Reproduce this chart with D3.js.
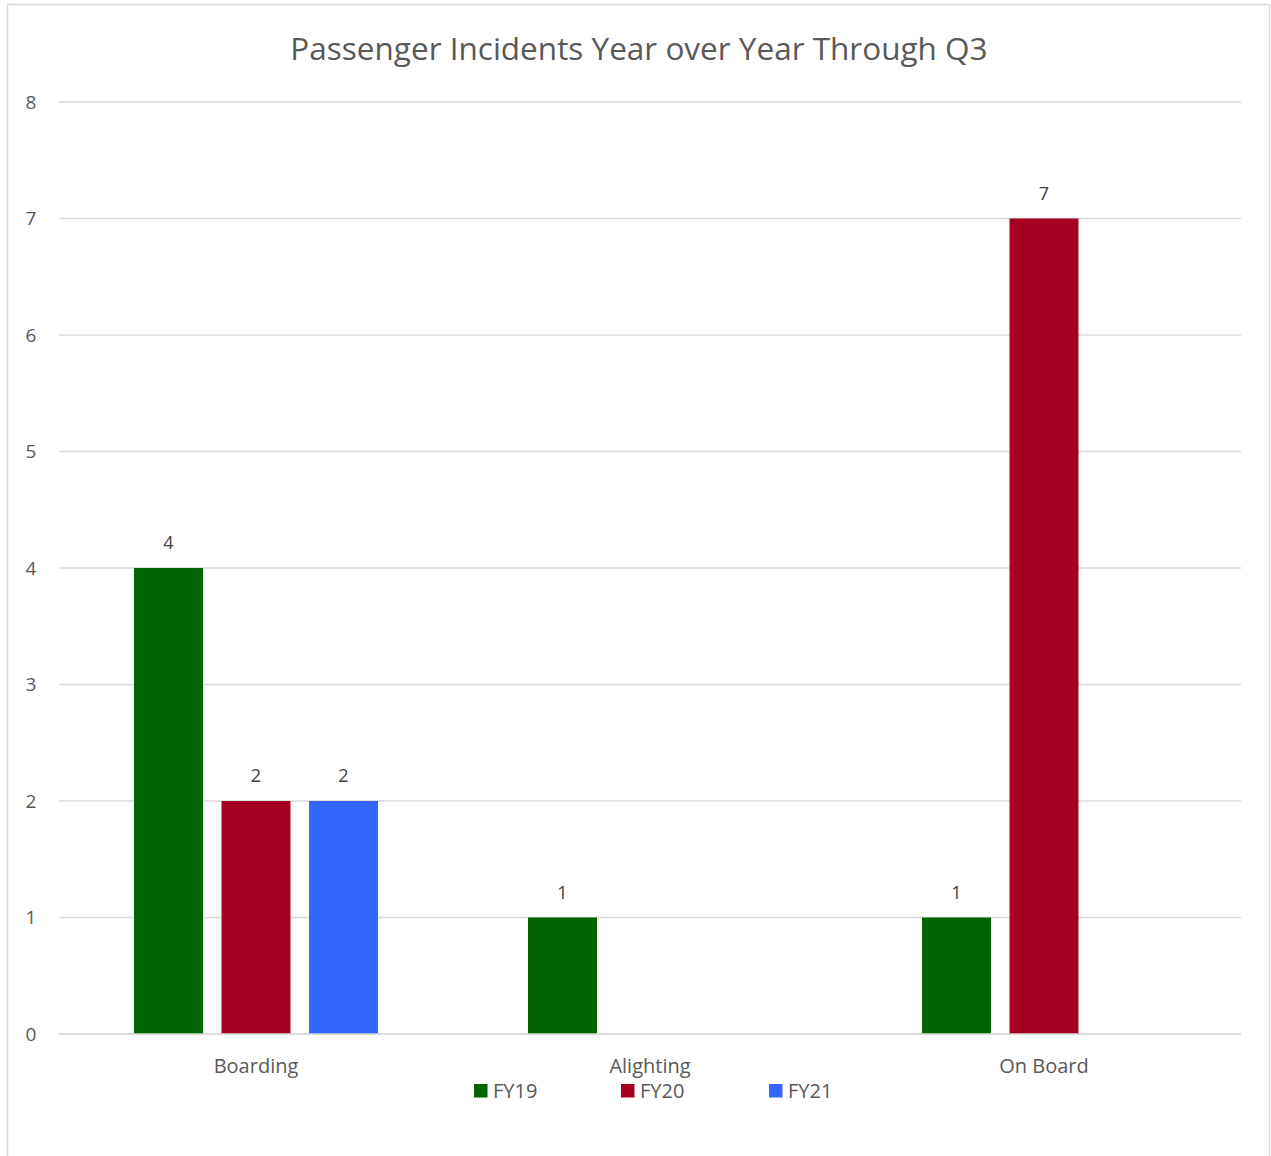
<!DOCTYPE html>
<html><head><meta charset="utf-8">
<script src="https://cdn.jsdelivr.net/npm/d3@7"></script>
<style>body{margin:0;background:#fff;} svg{display:block;}</style>
</head><body>
<script>
const categories = ["Boarding", "Alighting", "On Board"];
const seriesNames = ["FY19", "FY20", "FY21"];
const fy19 = [4, 1, 1];
const fy20 = [2, null, 7];
const fy21 = [2, null, null];
const yTicks = [0, 1, 2, 3, 4, 5, 6, 7, 8];
const colors = ["#006400", "#A50021", "#3366FF"];
const title = "Passenger Incidents Year over Year Through Q3";

(function () {
const W = 1271, H = 1156;
const font = "'Open Sans', sans-serif";
const svg = d3.select("body").append("svg").attr("width", W).attr("height", H);
svg.append("rect").attr("x", 7.5).attr("y", 4.5).attr("width", 1262).attr("height", 1160)
  .attr("fill", "#fff").attr("stroke", "#d9d9d9").attr("stroke-width", 1.5);

const pL = 59, pR = 1241, pT = 102, pB = 1034;
const x = d3.scaleBand().domain(categories).range([pL, pR]).paddingInner(0).paddingOuter(0);
const y = d3.scaleLinear().domain([0, 8]).range([pB, pT]);
const groupW = 244;
const xs2 = d3.scaleBand().domain(seriesNames).range([(x.bandwidth()-groupW)/2, (x.bandwidth()+groupW)/2]).paddingInner(18.5/87.5).paddingOuter(0);

svg.append("g").selectAll("line").data(yTicks).join("line")
  .attr("x1", pL).attr("x2", pR).attr("y1", d => y(d)).attr("y2", d => y(d))
  .attr("stroke", "#d9d9d9").attr("stroke-width", 1.5);

svg.append("g").selectAll("text").data(yTicks).join("text")
  .attr("x", 31).attr("y", d => y(d)).attr("dy", "0.35em").attr("text-anchor", "middle")
  .attr("font-family", font).attr("font-size", 19).attr("fill", "#595959").text(d => d);

const series = [fy19, fy20, fy21];
const data = [];
series.forEach((s, si) => s.forEach((v, ci) => { if (v != null) data.push({cat: categories[ci], ser: seriesNames[si], v, c: colors[si]}); }));

svg.append("g").selectAll("rect").data(data).join("rect")
  .attr("x", d => x(d.cat) + xs2(d.ser)).attr("width", xs2.bandwidth())
  .attr("y", d => y(d.v)).attr("height", d => y(0) - y(d.v)).attr("fill", d => d.c);

svg.append("g").selectAll("text").data(data).join("text")
  .attr("x", d => x(d.cat) + xs2(d.ser) + xs2.bandwidth()/2).attr("y", d => y(d.v) - 19)
  .attr("text-anchor", "middle").attr("font-family", font).attr("font-size", 18).attr("fill", "#404040")
  .text(d => d.v);

svg.append("line").attr("x1", pL).attr("x2", pR).attr("y1", y(0)).attr("y2", y(0))
  .attr("stroke", "#d9d9d9").attr("stroke-width", 1.5);

svg.append("g").selectAll("text").data(categories).join("text")
  .attr("x", d => x(d) + x.bandwidth()/2).attr("y", 1073).attr("text-anchor", "middle")
  .attr("font-family", font).attr("font-size", 20).attr("fill", "#595959").text(d => d);

svg.append("text").attr("x", 639).attr("y", 60).attr("text-anchor", "middle")
  .attr("font-family", font).attr("font-size", 31.5).attr("fill", "#595959").text(title);

const legX = [474, 621, 769];
const lg = svg.append("g").selectAll("g").data(seriesNames).join("g")
  .attr("transform", (d, i) => `translate(${legX[i]},1084)`);
lg.append("rect").attr("width", 13.5).attr("height", 13.5).attr("fill", (d, i) => colors[i]);
lg.append("text").attr("x", 19).attr("y", 7).attr("dy", "0.35em")
  .attr("font-family", font).attr("font-size", 20).attr("fill", "#595959").text(d => d);
})();
</script>
</body></html>
